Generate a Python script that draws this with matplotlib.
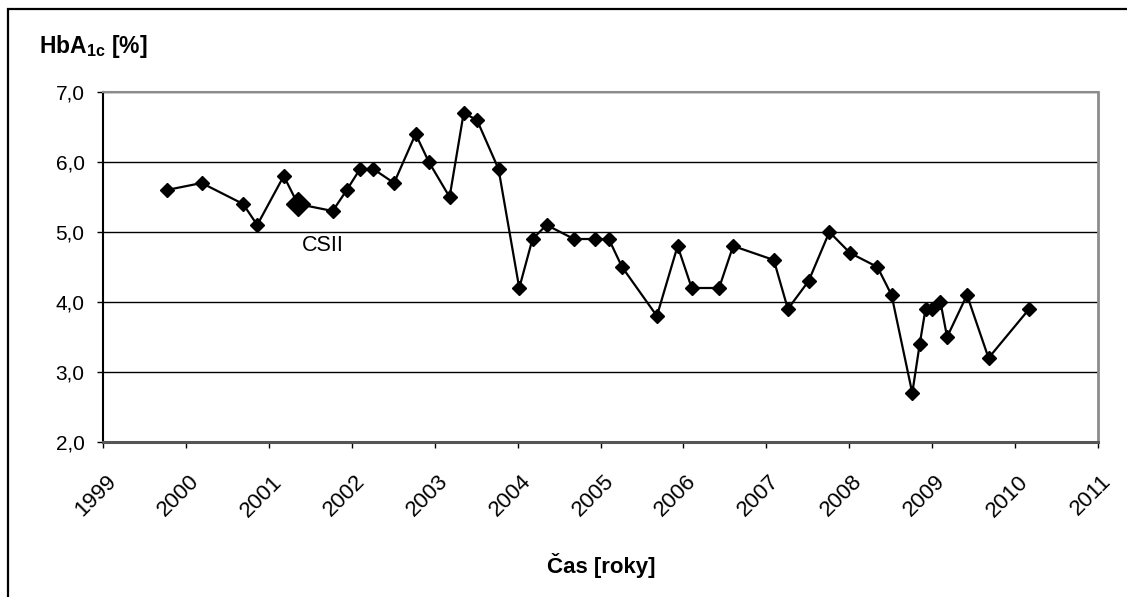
import matplotlib.pyplot as plt
from matplotlib.patches import Rectangle
from matplotlib.transforms import ScaledTranslation

plt.rcParams['font.family'] = ['Liberation Sans', 'DejaVu Sans']
plt.rcParams['mathtext.fontset'] = 'custom'
plt.rcParams['mathtext.rm'] = 'Liberation Sans'
plt.rcParams['mathtext.bf'] = 'Liberation Sans:bold'

# HbA1c measurements (time in years, value in %)
years = [1999.77, 2000.19, 2000.69, 2000.86, 2001.18, 2001.35, 2001.77, 2001.94,
         2002.10, 2002.26, 2002.51, 2002.77, 2002.93, 2003.18, 2003.35, 2003.51,
         2003.77, 2004.02, 2004.18, 2004.35, 2004.68, 2004.93, 2005.10, 2005.26,
         2005.68, 2005.93, 2006.10, 2006.43, 2006.60, 2007.09, 2007.26, 2007.51,
         2007.76, 2008.01, 2008.34, 2008.51, 2008.76, 2008.85, 2008.92, 2009.00,
         2009.10, 2009.18, 2009.42, 2009.68, 2010.17]
hba1c = [5.6, 5.7, 5.4, 5.1, 5.8, 5.4, 5.3, 5.6,
         5.9, 5.9, 5.7, 6.4, 6.0, 5.5, 6.7, 6.6,
         5.9, 4.2, 4.9, 5.1, 4.9, 4.9, 4.9, 4.5,
         3.8, 4.8, 4.2, 4.2, 4.8, 4.6, 3.9, 4.3,
         5.0, 4.7, 4.5, 4.1, 2.7, 3.4, 3.9, 3.9,
         4.0, 3.5, 4.1, 3.2, 3.9]

# start of pump therapy (CSII)
csii_year = 2001.35
csii_value = 5.4

year_ticks = list(range(1999, 2012))
value_ticks = [2, 3, 4, 5, 6, 7]

fig = plt.figure(figsize=(11.27, 5.97), dpi=100)

# outer frame of the chart object (cut by the image edges)
frame = Rectangle((8 / 1127, -0.1), 1.2, 1.1 - 9 / 597, transform=fig.transFigure,
                  fill=False, edgecolor='black', linewidth=1.6, clip_on=False)
fig.patches.append(frame)

ax = fig.add_axes([103 / 1127, 1 - 442 / 597, 995 / 1127, 350 / 597])

ax.plot(years, hba1c, color='black', linewidth=1.6, marker='D',
        markersize=7.5, markerfacecolor='black', markeredgecolor='black')
ax.plot([csii_year], [csii_value], linestyle='none', marker='D', markersize=12,
        color='black')
ax.text(2001.65, 4.81, 'CSII', fontsize=15.5, ha='center', va='center')

ax.set_xlim(1999, 2011)
ax.set_ylim(2, 7)
ax.set_xticks(year_ticks)
ax.set_xticklabels([str(y) for y in year_ticks], rotation=45, ha='right',
                   va='center', rotation_mode='anchor', fontsize=16)
ax.set_yticks(value_ticks)
ax.set_yticklabels(['%d,0' % v for v in value_ticks], fontsize=15)

ax.grid(axis='y', color='black', linewidth=1.0)
ax.set_axisbelow(True)
ax.tick_params(axis='both', direction='out', length=4.3, width=1.0, color='black')
ax.tick_params(axis='x', pad=22)
ax.tick_params(axis='y', pad=9)

# shift the rotated year labels a bit to the right, like the original
shift = ScaledTranslation(10 / 100, 0, fig.dpi_scale_trans)
for lbl in ax.get_xticklabels():
    lbl.set_transform(lbl.get_transform() + shift)

ax.spines['left'].set_color('black')
ax.spines['left'].set_linewidth(1.5)
ax.spines['bottom'].set_color('#555555')
ax.spines['bottom'].set_linewidth(2.2)
ax.spines['top'].set_color('#8c8c8c')
ax.spines['top'].set_linewidth(1.5)
ax.spines['right'].set_color('#8c8c8c')
ax.spines['right'].set_linewidth(2.0)

fig.text(39 / 1127, 1 - 47 / 597, r'HbA$_{\mathbf{1c}}$ [%]', fontsize=16.5,
         fontweight='bold', ha='left', va='center')
fig.text(601 / 1127, 1 - 566 / 597, 'Čas [roky]', fontsize=16,
         fontweight='bold', ha='center', va='center')

fig.savefig('out.png', dpi=100)
